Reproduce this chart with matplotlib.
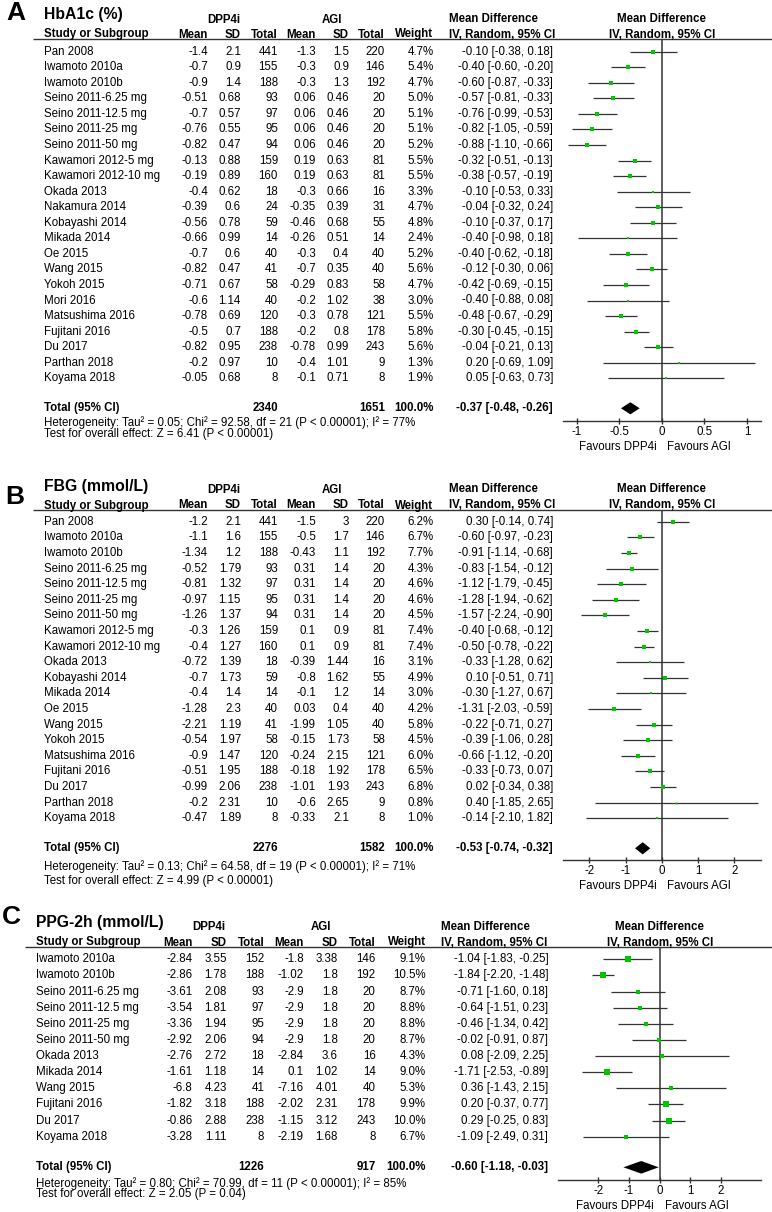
import matplotlib

matplotlib.use("Agg")
import matplotlib.pyplot as plt

plt.rcParams["font.family"] = ["Liberation Sans", "DejaVu Sans"]

W, H = 772, 1212
FS = 8.3
GREEN = "#00c800"
LINE = "#333333"

# ---------------- A: HbA1c (%) ----------------
A_STUDY = ["Pan 2008", "Iwamoto 2010a", "Iwamoto 2010b", "Seino 2011-6.25 mg", "Seino 2011-12.5 mg",
           "Seino 2011-25 mg", "Seino 2011-50 mg", "Kawamori 2012-5 mg", "Kawamori 2012-10 mg", "Okada 2013",
           "Nakamura 2014", "Kobayashi 2014", "Mikada 2014", "Oe 2015", "Wang 2015", "Yokoh 2015", "Mori 2016",
           "Matsushima 2016", "Fujitani 2016", "Du 2017", "Parthan 2018", "Koyama 2018"]
A_DPP_MEAN = [-1.4, -0.7, -0.9, -0.51, -0.7, -0.76, -0.82, -0.13, -0.19, -0.4, -0.39, -0.56, -0.66, -0.7,
              -0.82, -0.71, -0.6, -0.78, -0.5, -0.82, -0.2, -0.05]
A_DPP_SD = [2.1, 0.9, 1.4, 0.68, 0.57, 0.55, 0.47, 0.88, 0.89, 0.62, 0.6, 0.78, 0.99, 0.6, 0.47, 0.67, 1.14,
            0.69, 0.7, 0.95, 0.97, 0.68]
A_DPP_N = [441, 155, 188, 93, 97, 95, 94, 159, 160, 18, 24, 59, 14, 40, 41, 58, 40, 120, 188, 238, 10, 8]
A_AGI_MEAN = [-1.3, -0.3, -0.3, 0.06, 0.06, 0.06, 0.06, 0.19, 0.19, -0.3, -0.35, -0.46, -0.26, -0.3, -0.7,
              -0.29, -0.2, -0.3, -0.2, -0.78, -0.4, -0.1]
A_AGI_SD = [1.5, 0.9, 1.3, 0.46, 0.46, 0.46, 0.46, 0.63, 0.63, 0.66, 0.39, 0.68, 0.51, 0.4, 0.35, 0.83, 1.02,
            0.78, 0.8, 0.99, 1.01, 0.71]
A_AGI_N = [220, 146, 192, 20, 20, 20, 20, 81, 81, 16, 31, 55, 14, 40, 40, 58, 38, 121, 178, 243, 9, 8]
A_WEIGHT = [4.7, 5.4, 4.7, 5.0, 5.1, 5.1, 5.2, 5.5, 5.5, 3.3, 4.7, 4.8, 2.4, 5.2, 5.6, 4.7, 3.0, 5.5, 5.8,
            5.6, 1.3, 1.9]
A_MD = [-0.10, -0.40, -0.60, -0.57, -0.76, -0.82, -0.88, -0.32, -0.38, -0.10, -0.04, -0.10, -0.40, -0.40,
        -0.12, -0.42, -0.40, -0.48, -0.30, -0.04, 0.20, 0.05]
A_LO = [-0.38, -0.60, -0.87, -0.81, -0.99, -1.05, -1.10, -0.51, -0.57, -0.53, -0.32, -0.37, -0.98, -0.62,
        -0.30, -0.69, -0.88, -0.67, -0.45, -0.21, -0.69, -0.63]
A_HI = [0.18, -0.20, -0.33, -0.33, -0.53, -0.59, -0.66, -0.13, -0.19, 0.33, 0.24, 0.17, 0.18, -0.18, 0.06,
        -0.15, 0.08, -0.29, -0.15, 0.13, 1.09, 0.73]
A_TOTAL_N = [2340, 1651]
A_TOTAL_MD = [-0.37, -0.48, -0.26]
A_HET = "Heterogeneity: Tau\u00b2 = 0.05; Chi\u00b2 = 92.58, df = 21 (P < 0.00001); I\u00b2 = 77%"
A_TEST = "Test for overall effect: Z = 6.41 (P < 0.00001)"
A_TICKS = [-1, -0.5, 0, 0.5, 1]

# ---------------- B: FBG (mmol/L) ----------------
B_STUDY = ["Pan 2008", "Iwamoto 2010a", "Iwamoto 2010b", "Seino 2011-6.25 mg", "Seino 2011-12.5 mg",
           "Seino 2011-25 mg", "Seino 2011-50 mg", "Kawamori 2012-5 mg", "Kawamori 2012-10 mg", "Okada 2013",
           "Kobayashi 2014", "Mikada 2014", "Oe 2015", "Wang 2015", "Yokoh 2015", "Matsushima 2016",
           "Fujitani 2016", "Du 2017", "Parthan 2018", "Koyama 2018"]
B_DPP_MEAN = [-1.2, -1.1, -1.34, -0.52, -0.81, -0.97, -1.26, -0.3, -0.4, -0.72, -0.7, -0.4, -1.28, -2.21,
              -0.54, -0.9, -0.51, -0.99, -0.2, -0.47]
B_DPP_SD = [2.1, 1.6, 1.2, 1.79, 1.32, 1.15, 1.37, 1.26, 1.27, 1.39, 1.73, 1.4, 2.3, 1.19, 1.97, 1.47, 1.95,
            2.06, 2.31, 1.89]
B_DPP_N = [441, 155, 188, 93, 97, 95, 94, 159, 160, 18, 59, 14, 40, 41, 58, 120, 188, 238, 10, 8]
B_AGI_MEAN = [-1.5, -0.5, -0.43, 0.31, 0.31, 0.31, 0.31, 0.1, 0.1, -0.39, -0.8, -0.1, 0.03, -1.99, -0.15,
              -0.24, -0.18, -1.01, -0.6, -0.33]
B_AGI_SD = [3, 1.7, 1.1, 1.4, 1.4, 1.4, 1.4, 0.9, 0.9, 1.44, 1.62, 1.2, 0.4, 1.05, 1.73, 2.15, 1.92, 1.93,
            2.65, 2.1]
B_AGI_N = [220, 146, 192, 20, 20, 20, 20, 81, 81, 16, 55, 14, 40, 40, 58, 121, 178, 243, 9, 8]
B_WEIGHT = [6.2, 6.7, 7.7, 4.3, 4.6, 4.6, 4.5, 7.4, 7.4, 3.1, 4.9, 3.0, 4.2, 5.8, 4.5, 6.0, 6.5, 6.8, 0.8, 1.0]
B_MD = [0.30, -0.60, -0.91, -0.83, -1.12, -1.28, -1.57, -0.40, -0.50, -0.33, 0.10, -0.30, -1.31, -0.22,
        -0.39, -0.66, -0.33, 0.02, 0.40, -0.14]
B_LO = [-0.14, -0.97, -1.14, -1.54, -1.79, -1.94, -2.24, -0.68, -0.78, -1.28, -0.51, -1.27, -2.03, -0.71,
        -1.06, -1.12, -0.73, -0.34, -1.85, -2.10]
B_HI = [0.74, -0.23, -0.68, -0.12, -0.45, -0.62, -0.90, -0.12, -0.22, 0.62, 0.71, 0.67, -0.59, 0.27, 0.28,
        -0.20, 0.07, 0.38, 2.65, 1.82]
B_TOTAL_N = [2276, 1582]
B_TOTAL_MD = [-0.53, -0.74, -0.32]
B_HET = "Heterogeneity: Tau\u00b2 = 0.13; Chi\u00b2 = 64.58, df = 19 (P < 0.00001); I\u00b2 = 71%"
B_TEST = "Test for overall effect: Z = 4.99 (P < 0.00001)"
B_TICKS = [-2, -1, 0, 1, 2]

# ---------------- C: PPG-2h (mmol/L) ----------------
C_STUDY = ["Iwamoto 2010a", "Iwamoto 2010b", "Seino 2011-6.25 mg", "Seino 2011-12.5 mg", "Seino 2011-25 mg",
           "Seino 2011-50 mg", "Okada 2013", "Mikada 2014", "Wang 2015", "Fujitani 2016", "Du 2017",
           "Koyama 2018"]
C_DPP_MEAN = [-2.84, -2.86, -3.61, -3.54, -3.36, -2.92, -2.76, -1.61, -6.8, -1.82, -0.86, -3.28]
C_DPP_SD = [3.55, 1.78, 2.08, 1.81, 1.94, 2.06, 2.72, 1.18, 4.23, 3.18, 2.88, 1.11]
C_DPP_N = [152, 188, 93, 97, 95, 94, 18, 14, 41, 188, 238, 8]
C_AGI_MEAN = [-1.8, -1.02, -2.9, -2.9, -2.9, -2.9, -2.84, 0.1, -7.16, -2.02, -1.15, -2.19]
C_AGI_SD = [3.38, 1.8, 1.8, 1.8, 1.8, 1.8, 3.6, 1.02, 4.01, 2.31, 3.12, 1.68]
C_AGI_N = [146, 192, 20, 20, 20, 20, 16, 14, 40, 178, 243, 8]
C_WEIGHT = [9.1, 10.5, 8.7, 8.8, 8.8, 8.7, 4.3, 9.0, 5.3, 9.9, 10.0, 6.7]
C_MD = [-1.04, -1.84, -0.71, -0.64, -0.46, -0.02, 0.08, -1.71, 0.36, 0.20, 0.29, -1.09]
C_LO = [-1.83, -2.20, -1.60, -1.51, -1.34, -0.91, -2.09, -2.53, -1.43, -0.37, -0.25, -2.49]
C_HI = [-0.25, -1.48, 0.18, 0.23, 0.42, 0.87, 2.25, -0.89, 2.15, 0.77, 0.83, 0.31]
C_TOTAL_N = [1226, 917]
C_TOTAL_MD = [-0.60, -1.18, -0.03]
C_HET = "Heterogeneity: Tau\u00b2 = 0.80; Chi\u00b2 = 70.99, df = 11 (P < 0.00001); I\u00b2 = 85%"
C_TEST = "Test for overall effect: Z = 2.05 (P = 0.04)"
C_TICKS = [-2, -1, 0, 1, 2]

# layout in pixels of the 772x1212 canvas
LAY_A = dict(letter=(6, 13.5), title_x=44, title_y=15, group_y=20, dpp_x=224, agi_x=332, mdh_x=449,
             mdh_y=19, hdr_y=34.5, line_y=39.3, line_x0=33, study_x=43.5,
             cols=[208, 241, 278, 316, 349, 385], wt_x=433.5, ci_x=553, y0=51.7, dy=15.55,
             total_y=408.3, het_y=422.7, test_y=434, axis_y=420.7, plot_x=(562.7, 761), xlim=1.165)
LAY_B = dict(letter=(5, 497), title_x=44, title_y=486, group_y=490, dpp_x=224, agi_x=332, mdh_x=449,
             mdh_y=489.3, hdr_y=505.5, line_y=510, line_x0=33, study_x=43.5,
             cols=[208, 241, 278, 316, 349, 385], wt_x=433.5, ci_x=553, y0=521.7, dy=15.61,
             total_y=848.3, het_y=866.5, test_y=880.7, axis_y=860, plot_x=(562.7, 761), xlim=2.74)
LAY_C = dict(letter=(2, 917), title_x=35.7, title_y=922.7, group_y=926.7, dpp_x=209, agi_x=321, mdh_x=441,
             mdh_y=926.7, hdr_y=942.5, line_y=947.3, line_x0=25, study_x=35.7,
             cols=[192.7, 226.7, 264.3, 304, 338, 375.7], wt_x=425.7, ci_x=548.3, y0=959.3, dy=16.13,
             total_y=1167.3, het_y=1183.3, test_y=1194.5, axis_y=1180, plot_x=(558.3, 761), xlim=3.3)

PANELS = [
    ("A", "HbA1c (%)", LAY_A, A_STUDY, A_DPP_MEAN, A_DPP_SD, A_DPP_N, A_AGI_MEAN, A_AGI_SD, A_AGI_N,
     A_WEIGHT, A_MD, A_LO, A_HI, A_TOTAL_N, A_TOTAL_MD, A_HET, A_TEST, A_TICKS),
    ("B", "FBG (mmol/L)", LAY_B, B_STUDY, B_DPP_MEAN, B_DPP_SD, B_DPP_N, B_AGI_MEAN, B_AGI_SD, B_AGI_N,
     B_WEIGHT, B_MD, B_LO, B_HI, B_TOTAL_N, B_TOTAL_MD, B_HET, B_TEST, B_TICKS),
    ("C", "PPG-2h (mmol/L)", LAY_C, C_STUDY, C_DPP_MEAN, C_DPP_SD, C_DPP_N, C_AGI_MEAN, C_AGI_SD, C_AGI_N,
     C_WEIGHT, C_MD, C_LO, C_HI, C_TOTAL_N, C_TOTAL_MD, C_HET, C_TEST, C_TICKS),
]


def ci_text(md, lo, hi):
    return f"{md:.2f} [{lo:.2f}, {hi:.2f}]"


fig = plt.figure(figsize=(W / 100, H / 100), dpi=100)
fig.patch.set_facecolor("white")
bg = fig.add_axes([0, 0, 1, 1])
bg.set_xlim(0, W)
bg.set_ylim(H, 0)
bg.axis("off")


def put(x, y, s, ha="left", bold=False, size=FS):
    bg.text(x, y, s, ha=ha, va="center", fontsize=size, fontweight="bold" if bold else "normal", color="black")


for (letter, title, lay, study, dm, dsd, dn, am, asd, an, wt, md, lo, hi, tot_n, tot_md, het, test,
     ticks) in PANELS:
    # headers
    put(lay["letter"][0], lay["letter"][1], letter, bold=True, size=19)
    put(lay["title_x"], lay["title_y"], title, bold=True, size=11.3)
    put(lay["dpp_x"], lay["group_y"], "DPP4i", ha="center", bold=True)
    put(lay["agi_x"], lay["group_y"], "AGI", ha="center", bold=True)
    put(lay["mdh_x"], lay["mdh_y"], "Mean Difference", bold=True)
    put(lay["mdh_x"], lay["hdr_y"], "IV, Random, 95% CI", bold=True)
    fx = sum(lay["plot_x"]) / 2
    put(fx, lay["mdh_y"], "Mean Difference", ha="center", bold=True)
    put(fx, lay["hdr_y"], "IV, Random, 95% CI", ha="center", bold=True)
    put(lay["study_x"], lay["hdr_y"], "Study or Subgroup", bold=True)
    for cx, lab in zip(lay["cols"], ["Mean", "SD", "Total", "Mean", "SD", "Total"]):
        put(cx, lay["hdr_y"], lab, ha="right", bold=True)
    put(lay["wt_x"], lay["hdr_y"], "Weight", ha="right", bold=True)
    bg.hlines(lay["line_y"], lay["line_x0"], W, color=LINE, lw=1.0)

    # study rows
    for i, name in enumerate(study):
        y = lay["y0"] + i * lay["dy"]
        put(lay["study_x"], y, name)
        vals = [f"{dm[i]:g}", f"{dsd[i]:g}", f"{dn[i]}", f"{am[i]:g}", f"{asd[i]:g}", f"{an[i]}"]
        for cx, v in zip(lay["cols"], vals):
            put(cx, y, v, ha="right")
        put(lay["wt_x"], y, f"{wt[i]:.1f}%", ha="right")
        put(lay["ci_x"], y, ci_text(md[i], lo[i], hi[i]), ha="right")

    # total rows
    ty = lay["total_y"]
    put(lay["study_x"], ty, "Total (95% CI)", bold=True)
    put(lay["cols"][2], ty, f"{tot_n[0]}", ha="right", bold=True)
    put(lay["cols"][5], ty, f"{tot_n[1]}", ha="right", bold=True)
    put(lay["wt_x"], ty, "100.0%", ha="right", bold=True)
    put(lay["ci_x"], ty, ci_text(*tot_md), ha="right", bold=True)
    put(lay["study_x"], lay["het_y"], het)
    put(lay["study_x"], lay["test_y"], test)

    # forest plot
    x0, x1 = lay["plot_x"]
    top, axis_y = lay["line_y"], lay["axis_y"]
    y0, dy = lay["y0"], lay["dy"]
    ax = fig.add_axes([x0 / W, 1 - axis_y / H, (x1 - x0) / W, (axis_y - top) / H])
    ax.patch.set_alpha(0)
    ax.set_xlim(-lay["xlim"], lay["xlim"])
    ax.set_ylim((axis_y - y0) / dy, (top - y0) / dy)
    rows = list(range(len(md)))
    ax.hlines(rows, lo, hi, color=LINE, lw=0.9)
    ax.axvline(0, color=LINE, lw=1.1)
    for i in rows:
        ms = 1.2 + 0.27 * wt[i]
        ax.plot(md[i], i, marker="s", ms=ms, color=GREEN, mec=GREEN, mew=0, ls="none")
    trow = (ty - y0) / dy
    h = 0.39
    m, l, r = tot_md
    ax.fill([l, m, r, m], [trow, trow - h, trow, trow + h], color="black", lw=0)
    for s in ["top", "left", "right"]:
        ax.spines[s].set_visible(False)
    ax.spines["bottom"].set_color(LINE)
    ax.spines["bottom"].set_linewidth(1.0)
    ax.set_yticks([])
    ax.set_xticks(ticks, labels=[f"{t:g}" for t in ticks])
    ax.tick_params(axis="x", direction="inout", length=4.2, width=1.0, color=LINE, labelsize=FS, pad=1.5)
    ax.annotate("Favours DPP4i", xy=(0, 0), xycoords=("data", "axes fraction"), xytext=(-4, -19),
                textcoords="offset points", ha="right", va="center", fontsize=FS)
    ax.annotate("Favours AGI", xy=(0, 0), xycoords=("data", "axes fraction"), xytext=(3.5, -19),
                textcoords="offset points", ha="left", va="center", fontsize=FS)

fig.savefig("out.png", dpi=100, facecolor="white")
